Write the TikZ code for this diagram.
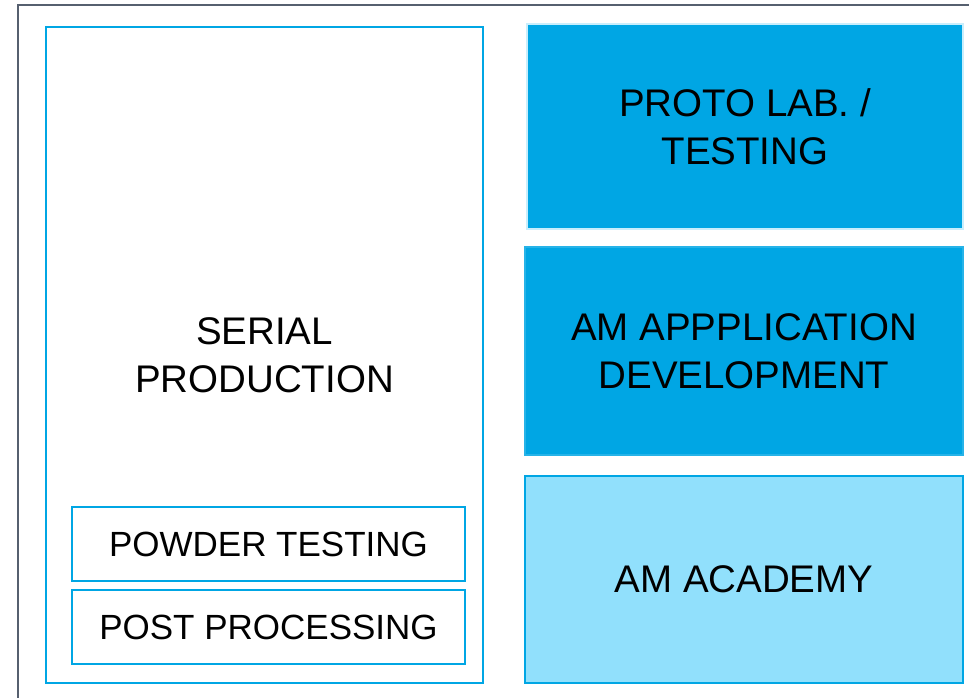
\documentclass[tikz,border=0pt]{standalone}
\usepackage{fontspec}
\setmainfont{Liberation Sans}
\definecolor{amblue}{HTML}{00A6E4}
\definecolor{amlight}{HTML}{91E0FC}
\definecolor{amedge}{HTML}{C9EEFC}
\definecolor{frame}{HTML}{56606F}
\tikzset{
  panel/.style={draw=amblue, line width=2pt, rectangle, inner sep=0pt, align=center, text=black},
  bigtext/.style={font=\fontsize{38.5}{48}\selectfont},
  smalltext/.style={font=\fontsize{35}{42}\selectfont},
}
\begin{document}
\begin{tikzpicture}[x=1pt, y=-1pt]
  \useasboundingbox (0,0) rectangle (969,698);
  \clip (0,0) rectangle (969,698);
  \fill[white] (0,0) rectangle (969,698);
  % outer frame, running past the right and bottom edges
  \draw[frame, line width=2pt] (18,5) rectangle (1000,730);

  % left column
  \node[panel, bigtext, minimum width=437pt, minimum height=656pt] (serial) at (264.5,355) {SERIAL\\PRODUCTION};
  \node[panel, smalltext, minimum width=393pt, minimum height=74pt] (powder) at (268.5,544) {POWDER TESTING};
  \node[panel, smalltext, minimum width=393pt, minimum height=74pt] (post) at (268.5,627) {POST PROCESSING};

  % right column
  \node[panel, bigtext, fill=amblue, draw=amedge, minimum width=436pt, minimum height=205pt] (proto) at (745,126.5) {PROTO LAB. /\\TESTING};
  \node[panel, bigtext, fill=amblue, draw=amblue!85!white, minimum width=438pt, minimum height=208pt] (app) at (744,351) {AM APPPLICATION\\DEVELOPMENT};
  \node[panel, bigtext, fill=amlight, minimum width=438pt, minimum height=207pt] (academy) at (744,579.5) {AM ACADEMY};
\end{tikzpicture}
\end{document}
